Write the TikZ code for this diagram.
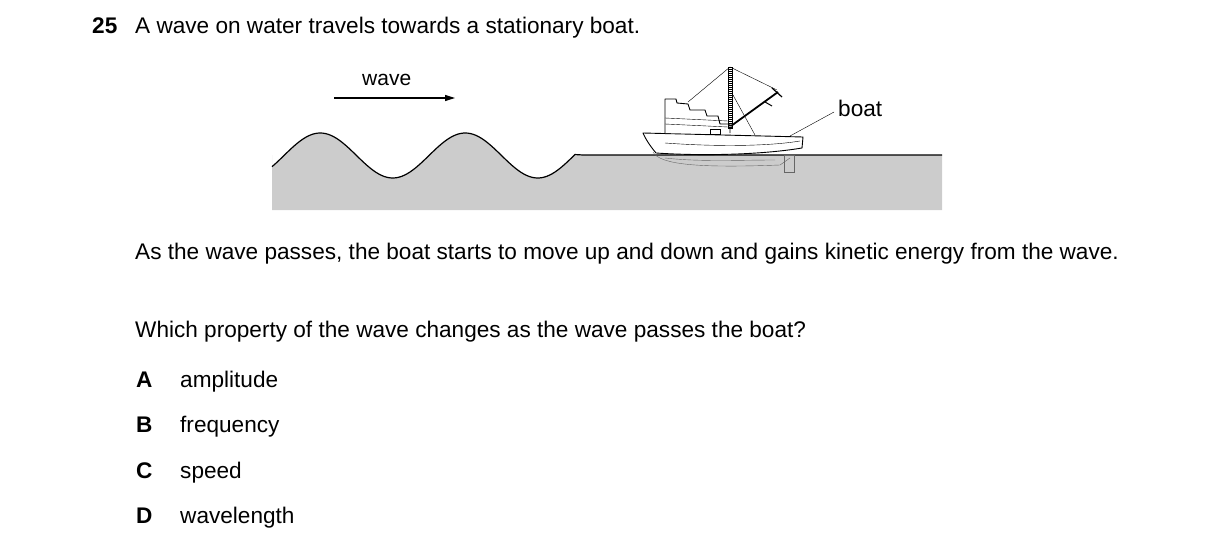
\documentclass[tikz,border=0pt]{standalone}
\usepackage{fontspec}
\setmainfont{Liberation Sans}
\usetikzlibrary{arrows.meta}
\begin{document}
\begin{tikzpicture}[x=1pt,y=-1pt,
  txt/.style={anchor=base west,inner sep=0pt,font=\fontsize{22.6}{26}\selectfont},
  lbl/.style={anchor=base west,inner sep=0pt,font=\fontsize{22.6}{26}\selectfont\bfseries},
  bt/.style={line width=0.9pt,line join=round},
  thin/.style={line width=0.4pt}]
\useasboundingbox (0,0) rectangle (1216,551);
% text
\node[lbl] (num) at (92,34) {25};
\node[txt] (q1) at (135,34) {A wave on water travels towards a stationary boat.};
\node[txt,text width=990,align=justify,anchor=base west] (p) at (135,259) {As the wave passes, the boat starts to move up and down and gains kinetic energy from the wave.};
\node[txt] (q2) at (135,337) {Which property of the wave changes as the wave passes the boat?};
\node[lbl] (la) at (136,387) {A};\node[txt] (ta) at (180,387) {amplitude};
\node[lbl] (lb) at (136,432) {B};\node[txt] (tb) at (180,432) {frequency};
\node[lbl] (lc) at (136,478) {C};\node[txt] (tc) at (180,478) {speed};
\node[lbl] (ld) at (136,523) {D};\node[txt] (td) at (180,523) {wavelength};
% water
\fill[black!20] (272,155) -- plot[domain=272:575,samples=120,smooth] (\x,{155.5-22.5*sin((\x-284)/145*360)}) -- (583,155) -- (942,155) -- (942,210) -- (272,210) -- cycle;
\draw[line width=1.2pt] plot[domain=272:575,samples=120,smooth] (\x,{155.5-22.5*sin((\x-284)/145*360)}) -- (583,155) -- (942,155);
% wave arrow
\coordinate (a1) at (334,98); \coordinate (a2) at (455,98);
\draw[line width=1.2pt,-{Triangle[length=10pt,width=6pt]}] (a1) -- (a2);
\node[txt,font=\fontsize{21}{24}\selectfont] (wl) at (362,85) {wave};
% boat underwater part
\draw[thin,black!60] (653,152) .. controls (660,165) and (700,168) .. (780,165) -- (790,158);
\draw[thin,black!60] (665,158) .. controls (700,162) and (740,160) .. (775,160);
\draw[thin,black!60] (784,155) rectangle (794,172);
% hull
\fill[white] (643,133) -- (803,137) -- (802,148) .. controls (760,155) and (700,156) .. (656,153) .. controls (650,146) and (645,138) .. (643,133) -- cycle;
\draw[bt] (643,133) -- (803,137) -- (802,148) .. controls (760,155) and (700,156) .. (656,153) .. controls (650,146) and (645,138) .. (643,133) -- cycle;
\draw[thin] (665,143) .. controls (720,147) and (770,146) .. (800,141);
% cabin
\draw[bt,fill=white] (665,133) -- (665,99) -- (676,99) -- (677,103) -- (688,104) -- (690,110) -- (705,110) -- (707,116) -- (718,116) -- (720,124) -- (730,124) -- (730,133);
\draw[thin] (665,118) -- (728,121); \draw[thin] (665,124) -- (728,127);
\draw[thin] (710,129) rectangle (720,134);
% mast
\draw[thin] (728,67) rectangle (732,128);
\foreach \yy in {69,71,...,127} \draw[line width=0.3pt] (728,\yy) -- (732,\yy);
% boom
\draw[line width=1.8pt] (731,126) -- (778,92);
\draw[line width=1.2pt] (772,88) -- (782,97);
\draw[line width=1pt] (765,102) -- (772,106);
% stays
\draw[thin] (730,67) -- (688,102);
\draw[thin] (730,67) -- (777,90);
\draw[thin] (733,95) -- (755,135);
% boat label
\coordinate (bp) at (790,136);
\node[txt] (bl) at (838,117) {boat};
\draw[thin] (bp) -- (834,112);
\end{tikzpicture}
\end{document}
